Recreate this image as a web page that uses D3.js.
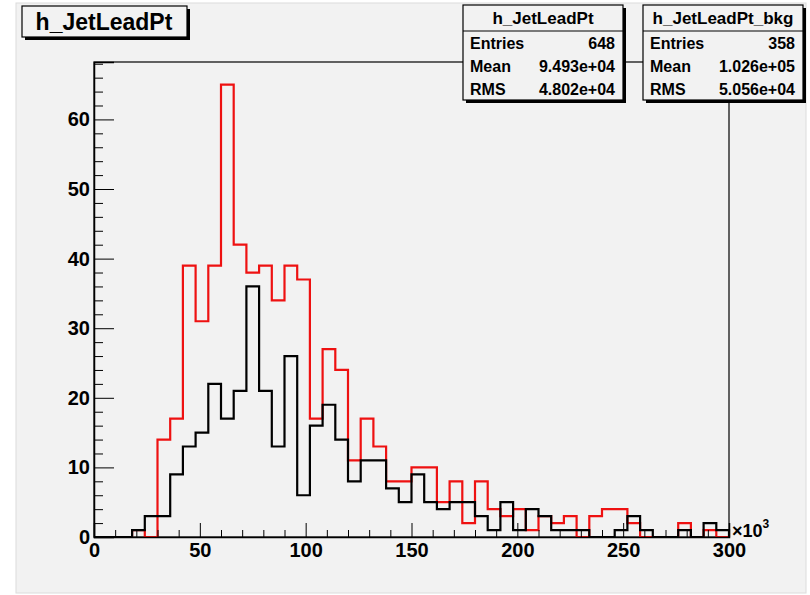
<!DOCTYPE html>
<html>
<head>
<meta charset="utf-8">
<script src="https://cdn.jsdelivr.net/npm/d3@7"></script>
<style>
  body { margin: 0; background: #fff; }
  text { font-family: "Liberation Sans", Arial, sans-serif; font-weight: bold; fill: #000; }
</style>
</head>
<body>
<svg class="chart"></svg>
<script>
// bin width 6 (x10^3), 50 bins from 0 to 300
var binWidth = 6;
var signalCounts = [0,0,0,1,0,14,17,39,31,39,65,42,38,39,34,39,37,17,27,24,
                    11,17,13,8,8,10,10,5,8,2,8,4,3,4,1,3,2,3,0,3,
                    4,4,2,0,0,0,2,0,1,0];
var bkgCounts    = [0,0,0,1,3,3,9,13,15,22,17,21,36,21,13,26,6,16,19,14,
                    8,11,11,7,5,9,5,4,5,5,3,1,5,1,4,3,1,1,1,0,
                    0,1,3,1,0,0,1,0,2,1];
var xMajorTicks = [0, 50, 100, 150, 200, 250, 300];
var yMajorTicks = [0, 10, 20, 30, 40, 50, 60];
var sigStats = [["Entries", "648"], ["Mean", "9.493e+04"], ["RMS", "4.802e+04"]];
var bkgStats = [["Entries", "358"], ["Mean", "1.026e+05"], ["RMS", "5.056e+04"]];

var W = 810, H = 595;
var frame = {left: 94, right: 729, top: 62, bottom: 537};

var svg = d3.select(".chart").attr("width", W).attr("height", H);

// canvas
svg.append("rect")
    .attr("x", 16).attr("y", 3)
    .attr("width", 790).attr("height", 590)
    .attr("fill", "#f2f2f2")
    .attr("stroke", "#dcdcdc");

var x = d3.scaleLinear().domain([0, 300]).range([frame.left, frame.right]);
var y = d3.scaleLinear().domain([0, 68.25]).range([frame.bottom, frame.top]);

// frame box
svg.append("rect")
    .attr("x", frame.left).attr("y", frame.top)
    .attr("width", frame.right - frame.left)
    .attr("height", frame.bottom - frame.top)
    .attr("fill", "none")
    .attr("stroke", "#000")
    .attr("stroke-width", 1.2);

// histograms
function stepPoints(counts) {
  var pts = [[0, 0]];
  counts.forEach(function(c, i) { pts.push([i * binWidth, c]); });
  pts.push([counts.length * binWidth, counts[counts.length - 1]]);
  pts.push([counts.length * binWidth, 0]);
  return pts;
}

var line = d3.line()
    .x(function(d) { return x(d[0]); })
    .y(function(d) { return y(d[1]); })
    .curve(d3.curveStepAfter);

svg.append("path")
    .datum(stepPoints(signalCounts))
    .attr("d", line)
    .attr("fill", "none")
    .attr("stroke", "#ee1111")
    .attr("stroke-width", 2.2);

svg.append("path")
    .datum(stepPoints(bkgCounts))
    .attr("d", line)
    .attr("fill", "none")
    .attr("stroke", "#000")
    .attr("stroke-width", 2.2);

// y axis
var yMinor = d3.range(0, 68.25, 2).filter(function(v) { return v % 10 !== 0; });

svg.append("g")
    .attr("transform", "translate(" + frame.left + ",0)")
    .call(d3.axisLeft(y).tickValues(yMinor).tickSize(-9).tickFormat(""))
    .call(function(g) { g.select(".domain").remove(); });

svg.append("g")
    .attr("class", "yaxis")
    .attr("transform", "translate(" + frame.left + ",0)")
    .call(d3.axisLeft(y).tickValues(yMajorTicks).tickSize(-20).tickPadding(4))
    .call(function(g) { g.select(".domain").attr("stroke-width", 1.5); });

// x axis
var xMinor = d3.range(0, 301, 10).filter(function(v) { return v % 50 !== 0; });

svg.append("g")
    .attr("transform", "translate(0," + frame.bottom + ")")
    .call(d3.axisBottom(x).tickValues(xMinor).tickSize(-7).tickFormat(""))
    .call(function(g) { g.select(".domain").remove(); });

svg.append("g")
    .attr("class", "xaxis")
    .attr("transform", "translate(0," + frame.bottom + ")")
    .call(d3.axisBottom(x).tickValues(xMajorTicks).tickSize(-14).tickPadding(6))
    .call(function(g) { g.select(".domain").attr("stroke-width", 1.5); });

svg.selectAll(".xaxis text, .yaxis text")
    .style("font-family", "'Liberation Sans', Arial, sans-serif")
    .style("font-weight", "bold")
    .style("font-size", "20px")
    .attr("fill", "#000");
svg.selectAll(".xaxis line, .yaxis line").attr("stroke", "#000");

var expo = svg.append("text")
    .attr("x", 732).attr("y", 537)
    .style("font-size", "18px");
expo.append("tspan").text("\u00d710");
expo.append("tspan").attr("dy", -9).style("font-size", "12px").text("3");

// boxes with ROOT-style shadow
function paveBox(bx, by, bw, bh) {
  svg.append("rect")
      .attr("x", bx + 3).attr("y", by + 3)
      .attr("width", bw).attr("height", bh)
      .attr("fill", "#000");
  svg.append("rect")
      .attr("x", bx).attr("y", by)
      .attr("width", bw).attr("height", bh)
      .attr("fill", "#f2f2f2")
      .attr("stroke", "#000")
      .attr("stroke-width", 1.2);
}

// title
paveBox(22, 6, 165, 31);
svg.append("text")
    .attr("x", 104).attr("y", 30)
    .attr("text-anchor", "middle")
    .style("font-size", "23px")
    .text("h_JetLeadPt");

function statsBox(bx, name, rows) {
  var by = 5, bw = 160, bh = 95;
  paveBox(bx, by, bw, bh);
  svg.append("line")
      .attr("x1", bx).attr("x2", bx + bw)
      .attr("y1", by + 26).attr("y2", by + 26)
      .attr("stroke", "#000").attr("stroke-width", 1.2);
  svg.append("text")
      .attr("x", bx + bw / 2).attr("y", by + 19)
      .attr("text-anchor", "middle")
      .style("font-size", "17px")
      .text(name);
  rows.forEach(function(r, i) {
    var ty = by + 44 + i * 23;
    svg.append("text")
        .attr("x", bx + 7).attr("y", ty)
        .style("font-size", "16px")
        .text(r[0]);
    svg.append("text")
        .attr("x", bx + bw - 8).attr("y", ty)
        .attr("text-anchor", "end")
        .style("font-size", "16px")
        .text(r[1]);
  });
}

statsBox(463, "h_JetLeadPt", sigStats);
statsBox(643, "h_JetLeadPt_bkg", bkgStats);
</script>
</body>
</html>
